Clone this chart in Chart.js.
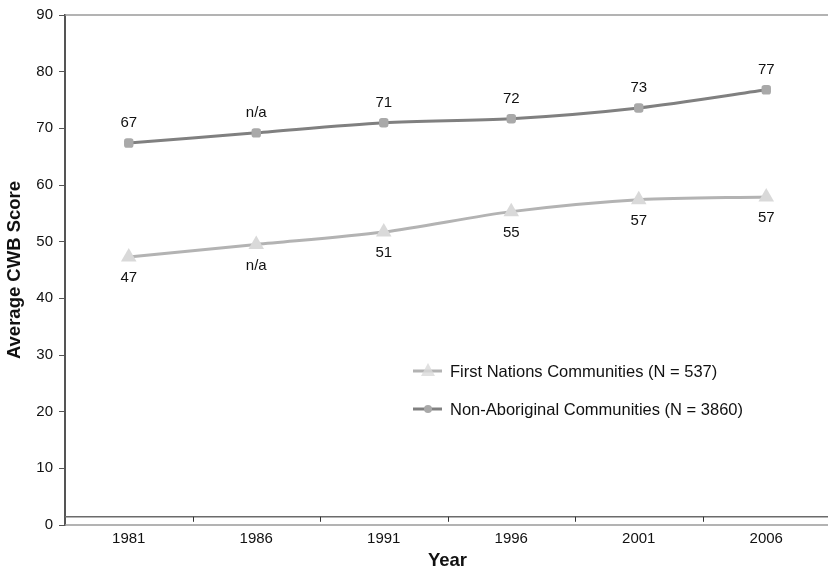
<!DOCTYPE html>
<html>
<head>
<meta charset="utf-8">
<script src="https://cdn.jsdelivr.net/npm/chart.js@4.4.1/dist/chart.umd.min.js"></script>
<style>
  html, body { margin: 0; padding: 0; background: #fff; }
  #wrap { width: 831px; height: 569px; }
</style>
</head>
<body>
<div id="wrap"><canvas id="cwbChart"></canvas></div>
<script>
var years = ['1981', '1986', '1991', '1996', '2001', '2006'];
var firstNations = [47.3, 49.5, 51.7, 55.3, 57.4, 57.9];
var nonAboriginal = [67.4, 69.2, 71.0, 71.7, 73.6, 76.8];
var firstNationsLabels = ['47', 'n/a', '51', '55', '57', '57'];
var nonAboriginalLabels = ['67', 'n/a', '71', '72', '73', '77'];
var yTicks = [0, 10, 20, 30, 40, 50, 60, 70, 80, 90];

var FONT = '"Liberation Sans", Arial, sans-serif';

// frame: top line, zero line and the raised category axis with ticks between years
var framePlugin = {
    id: 'frame',
    beforeDatasetsDraw: function (chart) {
        var ctx = chart.ctx, a = chart.chartArea;
        var xs = chart.scales.x, ys = chart.scales.y;
        var right = Math.min(a.right, chart.width - 3);
        ctx.save();
        ctx.strokeStyle = '#9a9a9a';
        ctx.lineWidth = 1.5;
        ctx.beginPath();
        ctx.moveTo(a.left, a.top);
        ctx.lineTo(right, a.top);
        ctx.moveTo(a.left, ys.getPixelForValue(0));
        ctx.lineTo(right, ys.getPixelForValue(0));
        ctx.stroke();
        var yAxis = ys.getPixelForValue(1.45);
        ctx.strokeStyle = '#6b6b6b';
        ctx.lineWidth = 1.5;
        ctx.beginPath();
        ctx.moveTo(a.left, yAxis);
        ctx.lineTo(right, yAxis);
        ctx.stroke();
        ctx.lineWidth = 1;
        ctx.strokeStyle = '#333';
        ctx.beginPath();
        for (var i = 1; i < years.length; i++) {
            var px = Math.round((xs.getPixelForValue(i - 1) + xs.getPixelForValue(i)) / 2) + 0.5;
            ctx.moveTo(px, yAxis);
            ctx.lineTo(px, yAxis + 5);
        }
        ctx.stroke();
        ctx.restore();
    }
};

// value labels above / below the points
var labelPlugin = {
    id: 'valueLabels',
    afterDatasetsDraw: function (chart) {
        var ctx = chart.ctx;
        ctx.save();
        ctx.font = '15px ' + FONT;
        ctx.fillStyle = '#111';
        ctx.textAlign = 'center';
        ctx.textBaseline = 'middle';
        chart.data.datasets.forEach(function (ds, di) {
            var meta = chart.getDatasetMeta(di);
            meta.data.forEach(function (pt, i) {
                var off = ds.labelSide === 'above' ? -20 : 21;
                ctx.fillText(ds.valueLabels[i], pt.x, pt.y + off);
            });
        });
        ctx.restore();
    }
};

// legend drawn inside the plot area
var legendPlugin = {
    id: 'innerLegend',
    afterDraw: function (chart) {
        var ctx = chart.ctx;
        var x0 = 413, rows = [371, 409];
        ctx.save();
        ctx.font = '16.5px ' + FONT;
        ctx.textBaseline = 'middle';
        ctx.textAlign = 'left';
        chart.data.datasets.forEach(function (ds, i) {
            var y = rows[i];
            ctx.strokeStyle = ds.borderColor;
            ctx.lineWidth = ds.borderWidth;
            ctx.beginPath();
            ctx.moveTo(x0, y);
            ctx.lineTo(x0 + 29, y);
            ctx.stroke();
            ctx.fillStyle = ds.pointBackgroundColor;
            ctx.beginPath();
            if (ds.pointStyle === 'triangle') {
                ctx.moveTo(x0 + 15, y - 8);
                ctx.lineTo(x0 + 22, y + 5);
                ctx.lineTo(x0 + 8, y + 5);
                ctx.closePath();
                ctx.globalAlpha = 0.8;
            } else {
                ctx.arc(x0 + 15, y, 4, 0, Math.PI * 2);
            }
            ctx.fill();
            ctx.globalAlpha = 1;
            ctx.fillStyle = '#111';
            ctx.fillText(ds.label, x0 + 37, y + 1);
        });
        ctx.restore();
    }
};

document.addEventListener('DOMContentLoaded', function () {
    var ctx = document.getElementById('cwbChart').getContext('2d');
    var cwbChart = new Chart(ctx, {
        type: 'line',
        data: {
            labels: years,
            datasets: [{
                label: 'First Nations Communities (N = 537)',
                data: firstNations,
                valueLabels: firstNationsLabels,
                labelSide: 'below',
                borderColor: '#b3b3b3',
                borderWidth: 3,
                pointStyle: 'triangle',
                pointRadius: 9,
                pointBackgroundColor: '#d9d9d9',
                pointBorderColor: '#d9d9d9',
                pointBorderWidth: 0,
                tension: 0.3
            }, {
                label: 'Non-Aboriginal Communities (N = 3860)',
                data: nonAboriginal,
                valueLabels: nonAboriginalLabels,
                labelSide: 'above',
                borderColor: '#808080',
                borderWidth: 3,
                pointStyle: 'rectRounded',
                pointRadius: 5.5,
                pointBackgroundColor: '#a9a9a9',
                pointBorderColor: '#a9a9a9',
                pointBorderWidth: 0,
                tension: 0.3
            }]
        },
        options: {
            responsive: true,
            maintainAspectRatio: false,
            animation: false,
            layout: {
                autoPadding: false,
                padding: { top: 13, right: 1, left: 0, bottom: 0 }
            },
            plugins: {
                legend: { display: false },
                tooltip: { enabled: false }
            },
            scales: {
                x: {
                    offset: true,
                    grid: { display: false },
                    border: { display: false },
                    ticks: {
                        color: '#111',
                        font: { family: FONT, size: 15 },
                        padding: -3,
                        maxRotation: 0
                    },
                    title: {
                        display: true,
                        text: 'Year',
                        color: '#111',
                        font: { family: FONT, size: 18.5, weight: 'bold' },
                        padding: { top: 0, bottom: -3 }
                    },
                    afterFit: function (scale) {
                        scale.height = 44;
                        scale.paddingLeft = 0;
                        scale.paddingRight = 0;
                    }
                },
                y: {
                    min: 0,
                    max: 90,
                    afterBuildTicks: function (scale) {
                        scale.ticks = yTicks.map(function (v) { return { value: v }; });
                    },
                    grid: {
                        drawOnChartArea: false,
                        drawTicks: true,
                        tickLength: 6,
                        tickColor: '#555'
                    },
                    border: { display: true, color: '#555', width: 2 },
                    ticks: {
                        color: '#111',
                        font: { family: FONT, size: 15 },
                        padding: 6
                    },
                    title: {
                        display: true,
                        text: 'Average CWB Score',
                        color: '#111',
                        font: { family: FONT, size: 18.5, weight: 'bold' },
                        padding: { top: 4, bottom: 0 }
                    },
                    afterFit: function (scale) { scale.width = 65; }
                }
            }
        },
        plugins: [framePlugin, labelPlugin, legendPlugin]
    });
});
</script>
</body>
</html>
